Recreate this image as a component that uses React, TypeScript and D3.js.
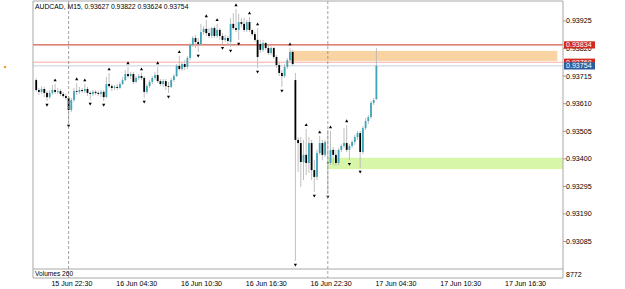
import React from 'react';
import * as d3 from 'd3';

const title = "AUDCAD, M15, 0.93627 0.93822 0.93624 0.93754";
const volumeLabel = "Volumes 260";
const volumeScaleLabel = "8772";

const opens = [
  0.93700, 0.93662, 0.93655, 0.93666, 0.93651, 0.93635, 0.93651, 0.93662, 0.93655, 0.93658,
  0.93647, 0.93639, 0.93632, 0.93586, 0.93624, 0.93658, 0.93655, 0.93662, 0.93658, 0.93666,
  0.93651, 0.93647, 0.93655, 0.93651, 0.93647, 0.93655, 0.93635, 0.93685, 0.93677, 0.93670,
  0.93674, 0.93670, 0.93685, 0.93700, 0.93723, 0.93715, 0.93723, 0.93693, 0.93708, 0.93715,
  0.93708, 0.93655, 0.93677, 0.93693, 0.93708, 0.93719, 0.93696, 0.93685, 0.93696, 0.93677,
  0.93674, 0.93700, 0.93715, 0.93754, 0.93742, 0.93761, 0.93750, 0.93784, 0.93834, 0.93860,
  0.93845, 0.93837, 0.93883, 0.93895, 0.93879, 0.93868, 0.93898, 0.93868, 0.93891, 0.93868,
  0.93853, 0.93860, 0.93845, 0.93914, 0.93898, 0.93891, 0.93921, 0.93914, 0.93891, 0.93921,
  0.93891, 0.93875, 0.93853, 0.93837, 0.93815, 0.93841, 0.93822, 0.93803, 0.93822, 0.93788,
  0.93757, 0.93727, 0.93715, 0.93750, 0.93776, 0.93807, 0.93700, 0.93472, 0.93460, 0.93388,
  0.93415, 0.93384, 0.93460, 0.93357, 0.93331, 0.93422, 0.93460, 0.93415, 0.93386, 0.93384,
  0.93434, 0.93415, 0.93384, 0.93434, 0.93449, 0.93460, 0.93434, 0.93449, 0.93464, 0.93483,
  0.93498, 0.93426, 0.93517, 0.93544, 0.93559, 0.93613, 0.93627,
];
const highs = [
  0.93708, 0.93670, 0.93677, 0.93674, 0.93658, 0.93662, 0.93681, 0.93685, 0.93670, 0.93666,
  0.93655, 0.93647, 0.93639, 0.93632, 0.93670, 0.93689, 0.93674, 0.93670, 0.93685, 0.93674,
  0.93658, 0.93662, 0.93662, 0.93658, 0.93662, 0.93662, 0.93712, 0.93727, 0.93685, 0.93681,
  0.93685, 0.93693, 0.93712, 0.93738, 0.93750, 0.93731, 0.93731, 0.93715, 0.93723, 0.93727,
  0.93715, 0.93685, 0.93700, 0.93715, 0.93731, 0.93750, 0.93704, 0.93704, 0.93704, 0.93693,
  0.93708, 0.93723, 0.93761, 0.93792, 0.93769, 0.93776, 0.93792, 0.93841, 0.93868, 0.93872,
  0.93860, 0.93914, 0.93906, 0.93929, 0.93898, 0.93902, 0.93906, 0.93914, 0.93898, 0.93879,
  0.93872, 0.93868, 0.93936, 0.93955, 0.93971, 0.93952, 0.93936, 0.93936, 0.93929, 0.93940,
  0.93891, 0.93883, 0.93898, 0.93853, 0.93853, 0.93845, 0.93830, 0.93830, 0.93826, 0.93795,
  0.93769, 0.93738, 0.93761, 0.93784, 0.93822, 0.93815, 0.93727, 0.93483, 0.93483, 0.93472,
  0.93514, 0.93483, 0.93472, 0.93395, 0.93434, 0.93487, 0.93472, 0.93472, 0.93510, 0.93506,
  0.93445, 0.93434, 0.93441, 0.93456, 0.93517, 0.93529, 0.93456, 0.93472, 0.93491, 0.93506,
  0.93506, 0.93525, 0.93555, 0.93567, 0.93620, 0.93632, 0.93822,
];
const lows = [
  0.93655, 0.93643, 0.93647, 0.93635, 0.93620, 0.93628, 0.93643, 0.93647, 0.93647, 0.93639,
  0.93632, 0.93624, 0.93540, 0.93578, 0.93616, 0.93643, 0.93647, 0.93651, 0.93651, 0.93639,
  0.93624, 0.93639, 0.93643, 0.93639, 0.93635, 0.93620, 0.93632, 0.93670, 0.93658, 0.93662,
  0.93662, 0.93666, 0.93681, 0.93696, 0.93708, 0.93704, 0.93685, 0.93689, 0.93700, 0.93700,
  0.93632, 0.93647, 0.93670, 0.93685, 0.93700, 0.93689, 0.93677, 0.93674, 0.93662, 0.93651,
  0.93670, 0.93693, 0.93712, 0.93735, 0.93735, 0.93738, 0.93742, 0.93776, 0.93826, 0.93822,
  0.93807, 0.93830, 0.93872, 0.93868, 0.93860, 0.93860, 0.93860, 0.93860, 0.93853, 0.93837,
  0.93845, 0.93830, 0.93826, 0.93891, 0.93883, 0.93853, 0.93902, 0.93883, 0.93883, 0.93883,
  0.93868, 0.93845, 0.93746, 0.93803, 0.93807, 0.93815, 0.93795, 0.93795, 0.93780, 0.93746,
  0.93715, 0.93674, 0.93708, 0.93742, 0.93769, 0.93754, 0.93011, 0.93350, 0.93293, 0.93319,
  0.93338, 0.93346, 0.93319, 0.93274, 0.93319, 0.93415, 0.93395, 0.93407, 0.93270, 0.93376,
  0.93376, 0.93373, 0.93376, 0.93426, 0.93441, 0.93426, 0.93395, 0.93441, 0.93453, 0.93472,
  0.93365, 0.93418, 0.93510, 0.93533, 0.93552, 0.93605, 0.93624,
];
const closes = [
  0.93662, 0.93655, 0.93666, 0.93651, 0.93635, 0.93651, 0.93662, 0.93655, 0.93658, 0.93647,
  0.93639, 0.93632, 0.93586, 0.93624, 0.93658, 0.93655, 0.93662, 0.93658, 0.93666, 0.93651,
  0.93647, 0.93655, 0.93651, 0.93647, 0.93655, 0.93635, 0.93685, 0.93677, 0.93670, 0.93674,
  0.93670, 0.93685, 0.93700, 0.93723, 0.93715, 0.93723, 0.93693, 0.93708, 0.93715, 0.93708,
  0.93655, 0.93677, 0.93693, 0.93708, 0.93719, 0.93696, 0.93685, 0.93696, 0.93677, 0.93674,
  0.93700, 0.93715, 0.93754, 0.93742, 0.93761, 0.93750, 0.93784, 0.93834, 0.93860, 0.93845,
  0.93837, 0.93883, 0.93895, 0.93879, 0.93868, 0.93898, 0.93868, 0.93891, 0.93868, 0.93853,
  0.93860, 0.93849, 0.93914, 0.93898, 0.93891, 0.93921, 0.93914, 0.93891, 0.93921, 0.93891,
  0.93875, 0.93853, 0.93788, 0.93815, 0.93841, 0.93822, 0.93803, 0.93822, 0.93788, 0.93757,
  0.93727, 0.93715, 0.93750, 0.93776, 0.93807, 0.93761, 0.93472, 0.93460, 0.93388, 0.93415,
  0.93384, 0.93460, 0.93357, 0.93331, 0.93422, 0.93460, 0.93415, 0.93464, 0.93384, 0.93434,
  0.93415, 0.93384, 0.93434, 0.93449, 0.93460, 0.93434, 0.93449, 0.93464, 0.93483, 0.93498,
  0.93426, 0.93517, 0.93544, 0.93559, 0.93613, 0.93624, 0.93754,
];

const fractalUpBars = [7, 15, 18, 27, 34, 39, 45, 53, 63, 67, 74, 79, 82, 94, 100, 105, 109, 115];
const fractalDownBars = [4, 12, 20, 25, 40, 49, 60, 69, 72, 75, 82, 91, 96, 103, 108, 116, 120];

const priceTicks = [0.93925, 0.9382, 0.93715, 0.9361, 0.93505, 0.934, 0.93295, 0.9319, 0.93085];
const timeLabels = ["15 Jun 22:30", "16 Jun 04:30", "16 Jun 10:30", "16 Jun 16:30", "16 Jun 22:30", "17 Jun 04:30", "17 Jun 10:30", "17 Jun 16:30"];
const timeLabelBars = [6, 30, 54, 78, 102, 126, 150, 174];
const separatorBars = [12, 108];

const levelPrices = [0.93834, 0.93768, 0.93754];
const levelColors = ["#c8321e", "#f6aaa2", "#c3d0e6"];
const tagPrices = [0.93834, 0.93768, 0.93754];
const tagColors = ["#d22a1c", "#d22a1c", "#2c5c9c"];

const zoneStartBars = [94, 108];
const zoneEndBars = [193, 200];
const zoneTops = [0.93811, 0.93404];
const zoneBottoms = [0.93773, 0.93361];
const zoneColors = ["#f9d3a2", "#d8f6a8"];

const W = 625, H = 289;
const L = 33, R = 563, T = 1, B = 269, VB = 278;
const FONT = "'Liberation Sans', Arial, sans-serif";

export default function App() {
  const n = opens.length;
  const x = d3.scaleLinear().domain([0, n - 1]).range([36.2, 36.2 + 2.7 * (n - 1)]);
  const y = d3.scaleLinear().domain([0.93085, 0.93925]).range([241.5, 21]);
  const bull = "#3ea6b7";
  const bear = "#000000";
  const wick = "#b9b9b9";
  const bw = 1.8;

  return (
    <svg width={W} height={H} style={{ position: 'absolute', left: 0, top: 0, background: '#fff' }} fontFamily={FONT}>
      <defs>
        <clipPath id="plot"><rect x={L} y={T} width={R - L} height={B - T} /></clipPath>
      </defs>
      <rect x={0} y={0} width={W} height={H} fill="#fff" />
      <circle cx={5} cy={67} r={1.3} fill="#f0a22c" />
      <g clipPath="url(#plot)">
        {zoneStartBars.map((s, k) => (
          <rect key={'z' + k} x={x(s)} y={y(zoneTops[k])} width={x(zoneEndBars[k]) - x(s)}
            height={y(zoneBottoms[k]) - y(zoneTops[k])} fill={zoneColors[k]} />
        ))}
        {levelPrices.map((p, k) => (
          <line key={'l' + k} x1={L} x2={R} y1={y(p)} y2={y(p)} stroke={levelColors[k]} strokeWidth={1} />
        ))}
        {opens.map((o, i) => {
          const c = closes[i];
          const top = y(Math.max(o, c));
          const h = Math.max(Math.abs(y(o) - y(c)), 0.8);
          return (
            <g key={'c' + i}>
              <line x1={x(i)} x2={x(i)} y1={y(highs[i])} y2={y(lows[i])} stroke={wick} strokeWidth={0.9} />
              <rect x={x(i) - bw / 2} y={top} width={bw} height={h} fill={c >= o ? bull : bear} />
            </g>
          );
        })}
        {fractalUpBars.map((i) => {
          const cx = x(i), cy = y(highs[i]) - 4;
          return <path key={'fu' + i} d={`M${cx},${cy - 1.6}L${cx + 1.6},${cy + 1.2}L${cx - 1.6},${cy + 1.2}Z`} fill="#000" />;
        })}
        {fractalDownBars.map((i) => {
          const cx = x(i), cy = y(lows[i]) + 4;
          return <path key={'fd' + i} d={`M${cx},${cy + 1.6}L${cx + 1.6},${cy - 1.2}L${cx - 1.6},${cy - 1.2}Z`} fill="#000" />;
        })}
      </g>
      {separatorBars.map((b, k) => (
        <line key={'s' + k} x1={x(b)} x2={x(b)} y1={T} y2={VB} stroke="#8a8a8a" strokeWidth={0.8} strokeDasharray="3,2" />
      ))}
      {/* frame */}
      <line x1={L} x2={L} y1={T} y2={VB} stroke="#a8a8a8" strokeWidth={1} />
      <line x1={R} x2={R} y1={T} y2={VB} stroke="#a8a8a8" strokeWidth={1} />
      <line x1={L} x2={R} y1={T} y2={T} stroke="#a8a8a8" strokeWidth={1} />
      <line x1={L} x2={R} y1={B} y2={B} stroke="#a8a8a8" strokeWidth={1} />
      <line x1={L} x2={R} y1={VB} y2={VB} stroke="#a8a8a8" strokeWidth={1} />
      <text x={35} y={8.5} fontSize={6.8} fill="#000">{title}</text>
      <text x={35} y={276} fontSize={6.6} fill="#000">{volumeLabel}</text>
      <text x={566} y={276.5} fontSize={7} fill="#000">{volumeScaleLabel}</text>
      {priceTicks.map((p, k) => (
        <g key={'pt' + k}>
          <line x1={R} x2={R + 3} y1={y(p)} y2={y(p)} stroke="#888" strokeWidth={0.8} />
          <text x={566} y={y(p)} dy="0.35em" fontSize={7.1} fill="#000">{p.toFixed(5)}</text>
        </g>
      ))}
      {tagPrices.map((p, k) => (
        <g key={'tg' + k}>
          <rect x={R + 1} y={y(p) - 3.6} width={31} height={7.2} fill={tagColors[k]} />
          <text x={566} y={y(p)} dy="0.35em" fontSize={7.1} fill="#fff">{p.toFixed(5)}</text>
        </g>
      ))}
      {timeLabels.map((t, k) => (
        <text key={'tl' + k} x={x(timeLabelBars[k]) - 1} y={285.5} fontSize={7.1} fill="#000">{t}</text>
      ))}
    </svg>
  );
}
